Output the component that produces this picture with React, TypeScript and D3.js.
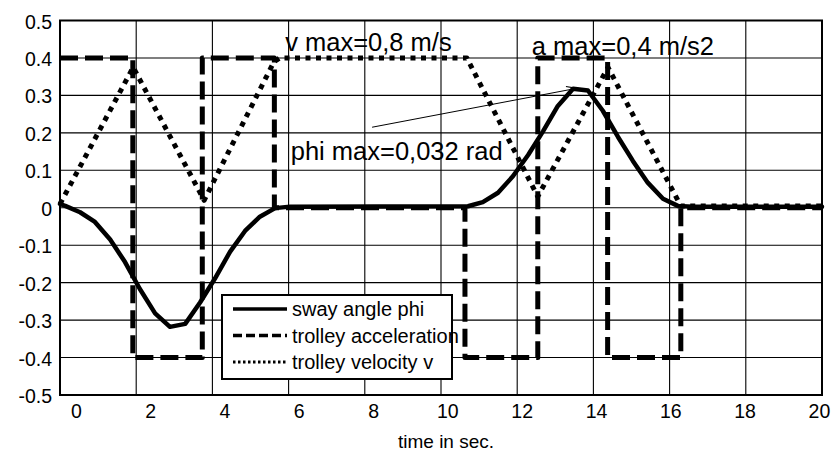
import React from 'react';
import * as d3 from 'd3';

const W = 833;
const H = 455;

// axis ticks
const xTickValues = [0, 2, 4, 6, 8, 10, 12, 14, 16, 18, 20];
const yTickValues = [-0.5, -0.4, -0.3, -0.2, -0.1, 0, 0.1, 0.2, 0.3, 0.4, 0.5];
const gridDivisions = [0, 1, 2, 3, 4, 5, 6, 7, 8, 9, 10];

// sway angle phi
const phiTime = [-0.44, -0.3, 0.1, 0.5, 0.91, 1.31, 1.71, 2.12, 2.52, 2.93, 3.33, 3.73, 4.14, 4.54, 4.94, 5.35, 5.75,
  10.54, 10.94, 11.35, 11.75, 12.16, 12.56, 12.96, 13.37, 13.77, 14.17, 14.58, 14.98, 15.38, 15.79, 16.19, 16.59, 20.07];
const phiValue = [0.01, 0.005, -0.012, -0.038, -0.085, -0.145, -0.217, -0.282, -0.318, -0.31, -0.253, -0.189, -0.117, -0.062, -0.024, -0.001, 0.003,
  0.004, 0.015, 0.04, 0.084, 0.141, 0.204, 0.272, 0.318, 0.313, 0.259, 0.189, 0.125, 0.067, 0.024, 0.005, 0.003, 0.003];

// trolley acceleration
const accelTime = [-0.44, 1.52, 1.52, 3.39, 3.39, 5.33, 5.33, 10.46, 10.46, 12.42, 12.42, 14.3, 14.3, 16.27, 16.27, 20.07];
const accelValue = [0.4, 0.4, -0.4, -0.4, 0.4, 0.4, 0, 0, -0.4, -0.4, 0.4, 0.4, -0.4, -0.4, 0, 0];

// trolley velocity v
const velTime = [-0.44, 1.53, 3.44, 5.32, 5.48, 10.51, 12.42, 14.31, 16.27, 20.07];
const velValue = [0.01, 0.375, 0.02, 0.39, 0.4, 0.4, 0.03, 0.375, 0.005, 0.005];

const legendLabels = ['sway angle phi', 'trolley acceleration', 'trolley velocity v'];
const annotationTexts = ['v max=0,8 m/s', 'phi max=0,032 rad', 'a max=0,4 m/s2'];
const annotationTime = [5.62, 5.77, 12.26];
const annotationValue = [0.418, 0.127, 0.407];
const arrowTime = [7.96, 13.47];
const arrowValue = [0.215, 0.319];

const FONT = '"Liberation Sans", Arial, Helvetica, sans-serif';

const styles = [
  { width: 4.5, dash: undefined as string | undefined, cap: 'round' },
  { width: 5, dash: '18,7', cap: 'butt' },
  { width: 5, dash: '5,5.5', cap: 'butt' },
];
const legendStyles = [
  { width: 3.5, dash: undefined as string | undefined },
  { width: 3.5, dash: '9,4' },
  { width: 3, dash: '2.5,2.5' },
];

export default function App() {
  const left = 60, right = 822, top = 20.5, bottom = 395;
  const x = d3.scaleLinear().domain([-0.44, 20.07]).range([left, right]);
  const y = d3.scaleLinear().domain([-0.5, 0.5]).range([bottom, top]);
  const gx = d3.scaleLinear().domain([0, 10]).range([left, right]);

  const line = d3.line<[number, number]>().x(d => x(d[0])).y(d => y(d[1]));
  const series = [
    phiTime.map((t, i) => [t, phiValue[i]] as [number, number]),
    accelTime.map((t, i) => [t, accelValue[i]] as [number, number]),
    velTime.map((t, i) => [t, velValue[i]] as [number, number]),
  ];

  const ax1 = x(arrowTime[0]), ay1 = y(arrowValue[0]);
  const ax2 = x(arrowTime[1]), ay2 = y(arrowValue[1]);
  const ang = Math.atan2(ay2 - ay1, ax2 - ax1);
  const hl = 11, ha = 0.35;
  const arrowHead = `M${ax2 - hl * Math.cos(ang - ha)},${ay2 - hl * Math.sin(ang - ha)}L${ax2},${ay2}L${ax2 - hl * Math.cos(ang + ha)},${ay2 - hl * Math.sin(ang + ha)}`;

  const lgX = 222, lgY = 295, lgW = 230, lgH = 84, rowH = 26.5;

  return (
    <svg width={W} height={H} style={{ position: 'absolute', left: 0, top: 0, background: '#fff' }} fontFamily={FONT}>
      <rect x={0} y={0} width={W} height={H} fill="#fff" />
      {/* grid */}
      <g stroke="#000" strokeWidth={1.1}>
        {yTickValues.slice(1, -1).map(v => (
          <line key={'h' + v} x1={left} x2={right} y1={y(v)} y2={y(v)} />
        ))}
        {gridDivisions.slice(1, -1).map(k => (
          <line key={'v' + k} x1={gx(k)} x2={gx(k)} y1={top} y2={bottom} />
        ))}
      </g>
      {/* series */}
      {series.map((s, i) => (
        <path key={'s' + i} d={line(s) || ''} fill="none" stroke="#000" strokeWidth={styles[i].width}
          strokeDasharray={styles[i].dash} strokeLinejoin="round" strokeLinecap={styles[i].cap as any} />
      ))}
      {/* frame */}
      <rect x={left} y={top} width={right - left} height={bottom - top} fill="none" stroke="#000" strokeWidth={2} />
      {/* y ticks */}
      {yTickValues.map(v => (
        <text key={'yl' + v} x={52} y={y(v) + 8} textAnchor="end" fontSize={19.5} fill="#000">
          {v === 0 ? '0' : (v < 0 ? '-' : '') + Math.abs(v).toFixed(1)}
        </text>
      ))}
      {/* x ticks */}
      {xTickValues.map(v => (
        <text key={'xl' + v} x={x(v)} y={418} textAnchor="middle" fontSize={19.5} fill="#000">{v}</text>
      ))}
      <text x={446} y={448} textAnchor="middle" fontSize={19} fill="#000">time in sec.</text>
      {/* annotations */}
      {annotationTexts.map((t, i) => (
        <text key={'an' + i} x={x(annotationTime[i])} y={y(annotationValue[i])} fontSize={25.5} fill="#000">{t}</text>
      ))}
      <line x1={ax1} y1={ay1} x2={ax2} y2={ay2} stroke="#000" strokeWidth={1} />
      <path d={arrowHead} fill="none" stroke="#000" strokeWidth={1.2} />
      {/* legend */}
      <rect x={lgX} y={lgY} width={lgW} height={lgH} fill="#fff" stroke="#000" strokeWidth={2} />
      {legendLabels.map((l, i) => {
        const cy = lgY + 14 + i * rowH;
        return (
          <g key={'lg' + i}>
            <line x1={lgX + 11} x2={lgX + 65} y1={cy} y2={cy} stroke="#000" strokeWidth={legendStyles[i].width}
              strokeDasharray={legendStyles[i].dash} />
            <text x={lgX + 70} y={cy + 7} fontSize={20} fill="#000">{l}</text>
          </g>
        );
      })}
    </svg>
  );
}
